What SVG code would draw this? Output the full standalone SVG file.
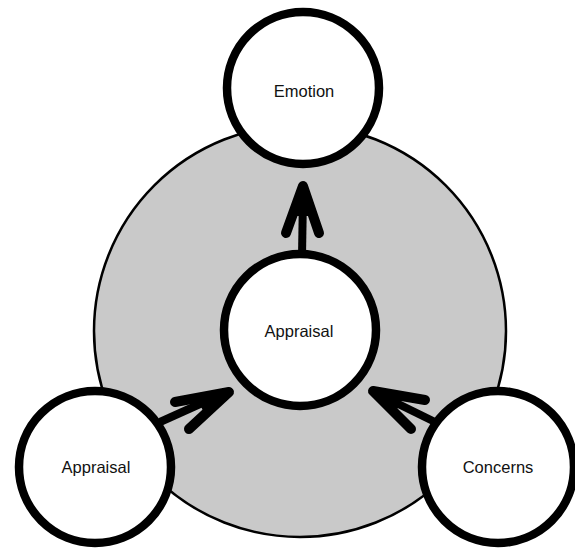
<svg xmlns="http://www.w3.org/2000/svg" width="575" height="551" viewBox="0 0 575 551">
  <style>
    .node { fill: #ffffff; stroke: #000000; stroke-width: 8.5; }
    .label { font-family: "Liberation Sans", Arial, sans-serif; font-size: 16.5px; fill: #111111; text-anchor: middle; }
    .shaft { stroke: #000000; stroke-width: 8; fill: none; stroke-linecap: butt; }
    .head { stroke: #000000; stroke-width: 10; fill: none; stroke-linecap: round; stroke-linejoin: round; }
    .headfill { fill: #000000; stroke: none; }
  </style>
  <rect width="575" height="551" fill="#ffffff"/>
  <g id="context">
    <circle cx="300" cy="331" r="206" fill="#c9c9c9" stroke="#000000" stroke-width="2.5"/>
  </g>
  <g id="connectors">
    <g id="arrow-appraisal-emotion">
      <line class="shaft" x1="302" y1="256" x2="303" y2="195"/>
      <polyline class="head" points="286,233 303,186 319,233"/>
      <polygon class="headfill" points="303,186 292,216 314,216"/>
    </g>
    <g id="arrow-appraisal2-appraisal">
      <line class="shaft" x1="160" y1="422" x2="220" y2="395"/>
      <polyline class="head" points="175,402 229,392 189,429"/>
      <polygon class="headfill" points="229,392 196,398 205,414"/>
    </g>
    <g id="arrow-concerns-appraisal">
      <line class="shaft" x1="435" y1="422" x2="382" y2="396"/>
      <polyline class="head" points="425,400 373,391 411,429"/>
      <polygon class="headfill" points="373,391 404,396 395,413"/>
    </g>
  </g>
  <g id="node-emotion">
    <circle class="node" cx="303" cy="88" r="76"/>
    <text class="label" x="304" y="97">Emotion</text>
  </g>
  <g id="node-appraisal-center">
    <circle class="node" cx="300" cy="330" r="76"/>
    <text class="label" x="299" y="337">Appraisal</text>
  </g>
  <g id="node-appraisal-left">
    <circle class="node" cx="95" cy="467" r="76"/>
    <text class="label" x="96" y="473">Appraisal</text>
  </g>
  <g id="node-concerns">
    <circle class="node" cx="498" cy="467" r="76"/>
    <text class="label" x="498" y="473">Concerns</text>
  </g>
</svg>
